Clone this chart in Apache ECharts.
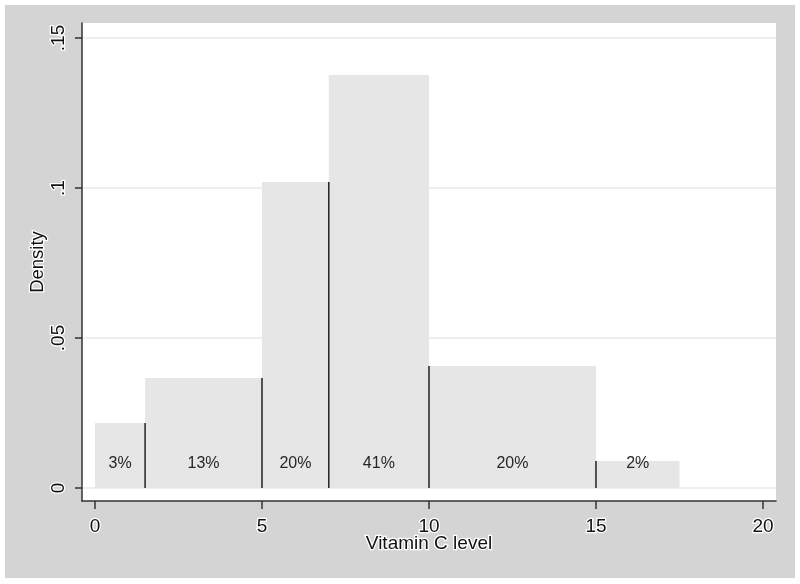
<!DOCTYPE html>
<html>
<head>
<meta charset="utf-8">
<script src="https://cdn.jsdelivr.net/npm/echarts@6/dist/echarts.min.js"></script>
<style>
html,body{margin:0;padding:0;background:#fff;width:800px;height:584px;overflow:hidden;}
#chart{position:absolute;left:5px;top:5px;width:790px;height:573px;}
</style>
</head>
<body>
<div id="chart"></div>
<script>
// Histogram bins (Vitamin C level) and densities
const binStart = [0, 1.5, 5, 7, 10, 15];
const binEnd = [1.5, 5, 7, 10, 15, 17.5];
const density = [0.0217, 0.0367, 0.102, 0.1377, 0.0407, 0.009];
const percentLabels = ['3%', '13%', '20%', '41%', '20%', '2%'];
// Black divider lines between groups
const dividerX = [1.5, 5, 7, 10, 15];
const dividerTop = [0.0217, 0.0367, 0.102, 0.0407, 0.009];
// Axis ticks
const xTicks = [0, 5, 10, 15, 20];
const yTicks = [0, 0.05, 0.1, 0.15];
const yTickLabels = ['0', '.05', '.1', '.15'];
const labelLevel = 0.0083;

const chart = echarts.init(document.getElementById('chart'));
const barData = binStart.map((s, i) => [s, binEnd[i], density[i], percentLabels[i]]);
const divData = dividerX.map((x, i) => [x, dividerTop[i]]);
const halo = { textBorderColor: '#fff', textBorderWidth: 2.5 };
const font = '"Liberation Sans", Arial, Helvetica, sans-serif';

chart.setOption({
  backgroundColor: '#d4d4d4',
  animation: false,
  grid: { left: 77, top: 18, right: 19, bottom: 77, show: true, backgroundColor: '#fff', borderWidth: 0 },
  xAxis: {
    type: 'value', min: -0.389, max: 20.39,
    name: 'Vitamin C level', nameLocation: 'middle', nameGap: 33, nameMoveOverlap: false,
    nameTextStyle: Object.assign({ fontSize: 19, color: '#111', fontFamily: font }, halo),
    axisLine: { show: true, onZero: false, lineStyle: { color: '#333', width: 1.5 } },
    axisTick: { show: true, length: 8, customValues: xTicks, lineStyle: { color: '#333', width: 1.5 } },
    axisLabel: Object.assign({ customValues: xTicks, fontSize: 19, color: '#111', margin: 16, fontFamily: font }, halo),
    splitLine: { show: false }
  },
  yAxis: {
    type: 'value', min: -0.00433, max: 0.155,
    name: 'Density', nameLocation: 'middle', nameGap: 35, nameMoveOverlap: false,
    nameTextStyle: Object.assign({ fontSize: 18.5, color: '#111', fontFamily: font }, halo),
    axisLine: { show: true, onZero: false, lineStyle: { color: '#333', width: 1.5 } },
    axisTick: { show: true, length: 7, customValues: yTicks, lineStyle: { color: '#333', width: 1.5 } },
    axisLabel: Object.assign({
      customValues: yTicks, rotate: 90, fontSize: 19, color: '#111', margin: 14, fontFamily: font,
      formatter: v => { const i = yTicks.findIndex(t => Math.abs(t - v) < 1e-9); return i >= 0 ? yTickLabels[i] : ''; }
    }, halo),
    splitLine: { show: true, lineStyle: { color: '#e8e8e8', width: 1.5 } }
  },
  series: [
    {
      type: 'custom',
      data: barData,
      encode: { x: [0, 1], y: 2 },
      renderItem: (params, api) => {
        const s = api.value(0), e = api.value(1), h = api.value(2);
        const p0 = api.coord([s, 0]);
        const p1 = api.coord([e, h]);
        const lp = api.coord([(s + e) / 2, labelLevel]);
        return {
          type: 'group',
          children: [
            { type: 'rect', shape: { x: p0[0], y: p1[1], width: p1[0] - p0[0], height: p0[1] - p1[1] }, style: { fill: '#e6e6e6' } },
            { type: 'text', z2: 10, style: { text: barData[params.dataIndex][3], x: lp[0], y: lp[1], align: 'center', verticalAlign: 'middle', fill: '#262626', font: '16px ' + font } }
          ]
        };
      }
    },
    {
      type: 'custom',
      data: divData,
      encode: { x: 0, y: 1 },
      renderItem: (params, api) => {
        const a = api.coord([api.value(0), 0]);
        const b = api.coord([api.value(0), api.value(1)]);
        return { type: 'line', shape: { x1: a[0], y1: a[1], x2: b[0], y2: b[1] }, style: { stroke: '#222', lineWidth: 1.5 } };
      }
    }
  ]
});
</script>
</body>
</html>
